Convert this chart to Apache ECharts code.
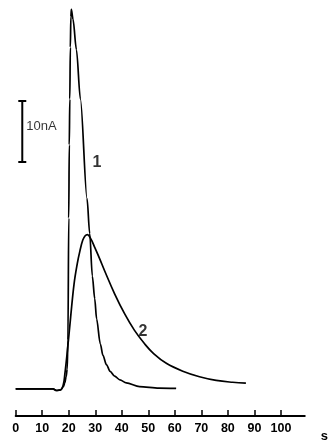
<!DOCTYPE html>
<html>
<head>
<meta charset="utf-8">
<style>html,body{margin:0;padding:0;background:#fff;}#chart{width:331px;height:443px;}</style>
<script src="https://cdn.jsdelivr.net/npm/echarts@6/dist/echarts.min.js"></script>
</head>
<body>
<div id="chart"></div>
<script>
// Curve 1 (time in s, current in nA)
const curve1Time = [0, 10, 14, 15.5, 17.0, 18.0, 18.5, 19.0, 19.4, 19.7, 20.0, 20.2, 20.4, 20.6, 20.8, 21.0, 21.6, 22.9, 24.4, 26.9, 27.9, 28.9, 29.8, 30.5, 31.9, 32.9, 34.2, 35.6, 37.3, 39.3, 41.7, 46.7, 54, 60.5];
const curve1Current = [0, 0, 0, -0.25, -0.15, 0.4, 1.0, 2.0, 3.2, 8, 28, 40, 47.5, 56, 61, 62.2, 60.6, 55.6, 47.5, 31.2, 25.5, 18.5, 14.8, 11.5, 7.4, 5.5, 4.0, 2.9, 2.1, 1.5, 1.0, 0.4, 0.15, 0.1];
// Curve 2
const curve2Time = [0, 10, 14, 15.5, 17.0, 18.0, 18.5, 19.5, 20.7, 22.0, 23.2, 24.2, 25.3, 26.2, 27.0, 27.8, 28.7, 29.8, 31.6, 33.6, 37.3, 41.1, 44.8, 48.6, 52.0, 56.8, 63, 69.3, 75.6, 81.8, 86.8];
const curve2Current = [0, 0, 0, -0.25, -0.15, 0.8, 2.3, 6.3, 11.7, 17.2, 20.5, 22.6, 24.4, 25.1, 25.3, 25.0, 24.3, 23.2, 21.4, 19.3, 15.6, 12.3, 9.6, 7.4, 5.8, 4.2, 2.9, 2.0, 1.4, 1.1, 0.97];
// tick labels on the time axis
const timeTicks = [0, 10, 20, 30, 40, 50, 60, 70, 80, 90, 100];
// 10 nA scale bar (time position, bottom, top)
const scaleBarTime = 2.48;
const scaleBarRange = [37.2, 47.2];
const scaleBarLabel = '10nA';
// curve labels: [time, current, text]
const curveLabels = [[28.95, 37.1, '1'], [46.35, 9.4, '2']];
const scaleLabel = [[4.0, 43.0, scaleBarLabel]];

const zip = (a, b) => a.map((v, i) => [v, b[i]]);
const FONT = '"Liberation Sans", Arial, sans-serif';

const chart = echarts.init(document.getElementById('chart'), null, {renderer: 'canvas'});
chart.setOption({
  animation: false,
  backgroundColor: '#fff',
  grid: {left: 15.7, right: 25.4, top: 0, bottom: 23},
  xAxis: {
    type: 'value', min: 0, max: 109,
    axisLine: {show: true, onZero: false, lineStyle: {color: '#000', width: 2}},
    axisTick: {show: true, inside: true, length: 6, customValues: timeTicks, lineStyle: {color: '#000', width: 1.5}},
    axisLabel: {show: true, customValues: timeTicks, color: '#000', fontSize: 12.5, fontWeight: 'bold', fontFamily: FONT, margin: 6},
    splitLine: {show: false},
    name: 's', nameLocation: 'end', nameGap: 16,
    nameTextStyle: {color: '#000', fontSize: 13, fontWeight: 'bold', fontFamily: FONT, align: 'left', verticalAlign: 'top', padding: [14, 0, 0, 0]}
  },
  yAxis: {
    type: 'value', min: -4.43, max: 63.75, show: false,
    splitLine: {show: false}
  },
  series: [
    {type: 'line', data: zip(curve1Time, curve1Current), showSymbol: false, symbol: 'none', smooth: 0.3, smoothMonotone: 'x',
     lineStyle: {color: '#000', width: 1.7}, clip: false},
    {type: 'line', data: zip(curve2Time, curve2Current), showSymbol: false, symbol: 'none', smooth: 0.4,
     lineStyle: {color: '#000', width: 1.7}, clip: false},
    {type: 'line', data: scaleBarRange.map(v => [scaleBarTime, v]), symbol: 'rect', symbolSize: [8, 2], showSymbol: true,
     itemStyle: {color: '#000'}, lineStyle: {color: '#000', width: 2}, clip: false},
    {type: 'scatter', data: curveLabels, symbolSize: 0, clip: false,
     label: {show: true, position: 'right', distance: 0, formatter: p => p.data[2], color: '#000', fontSize: 16, fontWeight: 'bold', fontFamily: FONT}},
    {type: 'scatter', data: scaleLabel, symbolSize: 0, clip: false,
     label: {show: true, position: 'right', distance: 0, formatter: p => p.data[2], color: '#000', fontSize: 13, fontFamily: FONT}}
  ]
});
</script>
</body>
</html>
